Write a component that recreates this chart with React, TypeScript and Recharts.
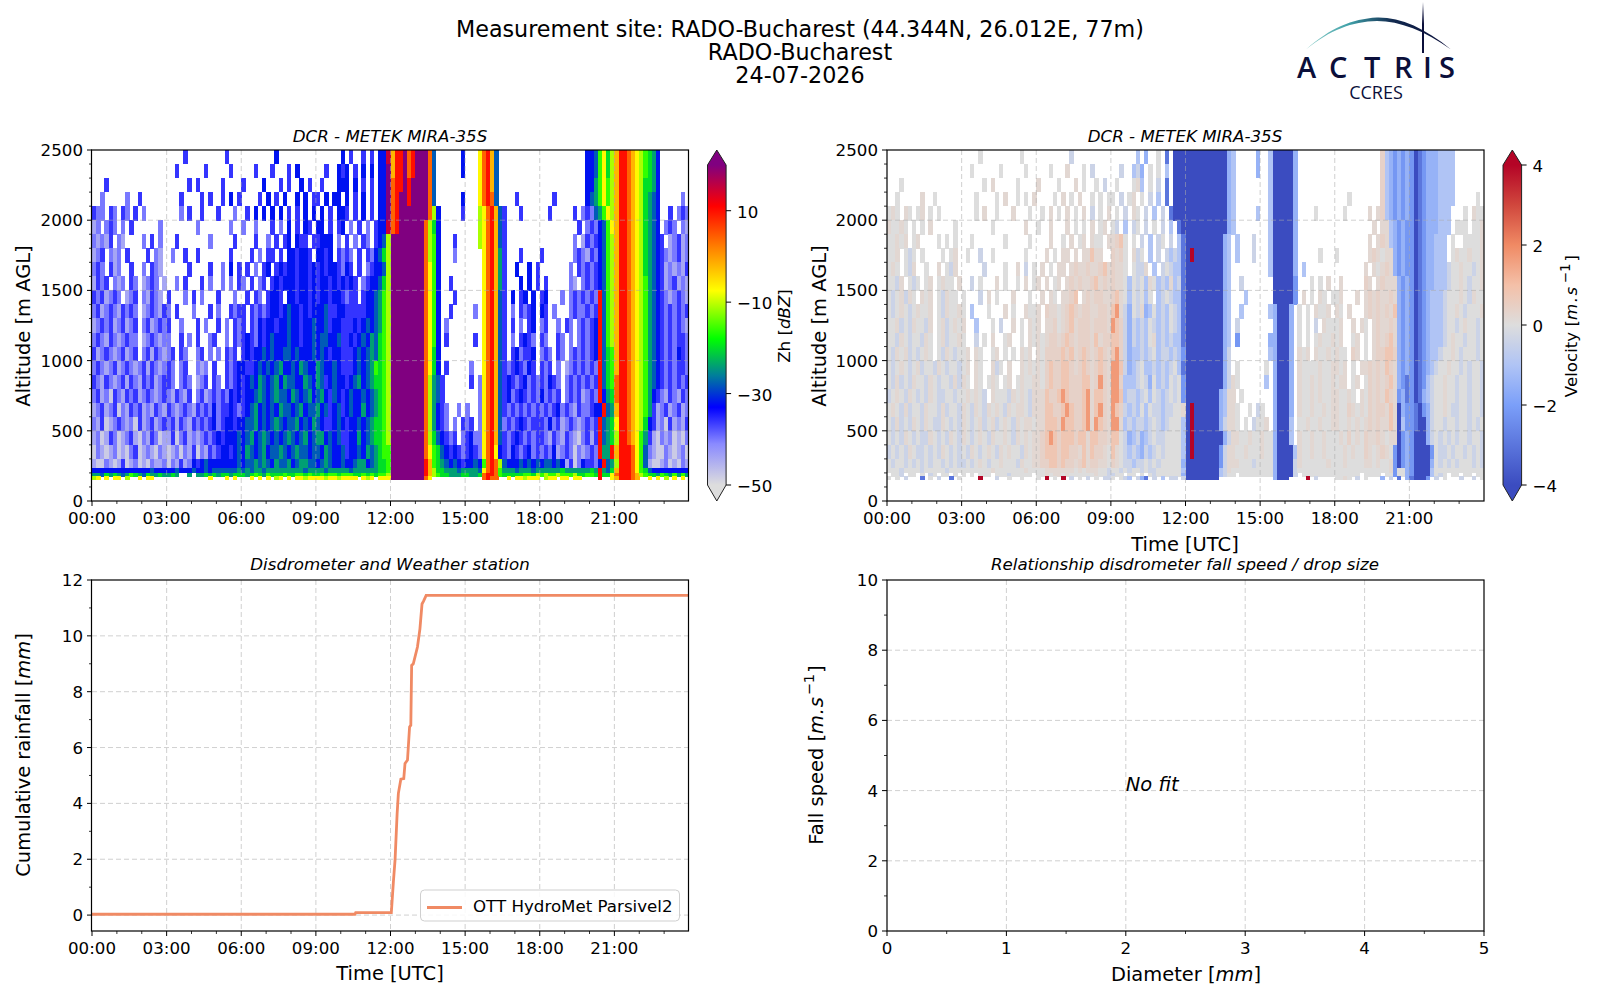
import React from 'react';
import {
  ScatterChart, Scatter, LineChart, Line, XAxis, YAxis, CartesianGrid, ReferenceDot,
} from 'recharts';

const FONT = '"DejaVu Sans", sans-serif';
const LOGO_FONT = '"Open Sans", sans-serif';
const NAVY = '#0b0f3a';
const LINE_COLOR = '#f08a64';
const GRID_COLOR = 'rgba(170,170,170,0.55)';

// altitude of the bottom of every radar row, top row first [m]
const rowBases = [2400, 2300, 2200, 2100, 2000, 1900, 1800, 1700, 1600, 1500, 1400, 1300, 1200, 1100, 1000, 900, 800, 700, 600, 500, 400, 300, 235, 200, 175, 150];
const rowTop = 2500;
const columnMinutes = 10;

// one letter per 10 minutes, grouped by 3 hours, "." = no signal
const zhLevels: Record<string, number> = { a: -48, b: -44, c: -40, d: -36, e: -32, f: -28, g: -24, h: -20, i: -16, j: -11, k: -7, l: -2, m: 4, n: 10, o: 15, p: 20 };
const zhRows = [
  '.................. ....d.........d... ........e......... ......e.d..d.d.eeo lnnpmnpppmf......e ...kmnlf.......... ...........eefikhj lnnmlkjihge.......',
  '.................. ..d......d.....d.. ...d...d...d.e.... ..d..ede.d.e.e.eep lnnpmnpppmf......e ...kmnlf.......... ...........eefikhj lnnmlkjihge.......',
  '...d.............. .....d.d.....d.... d....e...d.d..e.d. .d...eee.e.d.d.eep mnnpnppppmf....... ...kmnlf.......... ...........eegikij lnnmlkjhhge.......',
  '..c.....c..d...... ...d....d.d..d.e.d ....d.e.d.e..e.e.d d.e.ee.e.d.e.d.eep mnppnppppmf......e ...kmnmf....d..... ...d.......efgikij lnnmlkjhgfe.....c.',
  'dcc.dc.dc.d.c..... ...c.d..d...d...c. .d.e.e.e.e.d.d.e.e .e.d.eed.d.e.d.eep mnpppppppmje.....d ...jkmnlfd...d.... ..d.....d.cdcfgikj lnnmlkjhgfe..d.cdc',
  'bc.cdc.c.d......c. .......c.......c.. c..c...d.c.e.d.ed. ee.d.de.c.d.c.deeo mnppppppmjhe...... ...jkmnlfd........ .........d.cdcefik lnnmlkjhgfe.cdc.cb',
  'cbcbd.cb....c.d.c. ..d.......c.....d. ...d..c.d.de.edd.d deee.c.d.c.dc.defj ppppppppmjie...d.. ...jkmnlfd........ ........c.bdcdefij lnnmlkjhgfed.bcdbc',
  'bcd.cbc.d....d.cb. .c..d..d.......d.. ..d.c.dd.d.eedeed. eede.dcdc.d.dcefhj ppppppppmjie...c.. ....kmnlgd...d.... d.......cdcbdcefij lnnmlkjhgfedcbcdbc',
  'cdc.dbc..d..c.dcb. .....d....d..c.e.d .d.c.de.dedeedeede dedeedced.d.cdeefj ppppppppmkie...... ....kmnlgd..e..e.d .......c.dcdcdefij lnnmlkjhgfedbcbcbd',
  'bdcd.cbc.dc.bcdc.b ..c.d...d.c..c.c.d c.d.cd.dedeeedeede deedededed.cdeefhj ppppppppmkie..d... ....kmnlgd...e.e.d .d.....cb.cdcdefij lnnmlkjigfedbcdbcb',
  'dcdbcdc.bcd.cbdcb. d...c.d.c...d...c. .d.dc.deed.eedeede deedeedcdd.deefgij ppppppppmkie...d.. ....kmnlfd.e.de.e. de...c.cdcdcdcnfij lnnmlkjigfedcbcdcb',
  'cdbcdcbdcdc.bcdcbd c.d...c...d.c..dcd d.dcdcdeedefeedede eefddeedddddeefgij ppppppppmkie..d... ..c.kmnlfd.c.dcde. ed.c...cdccdcdnfij lnnmlkjigfedcdcdcd',
  'bcdcdbcdbcd.cdbcdc d..c...d.c..d.c.dc d.dcedeedeefeedeef eefdeedddedefefgij ppppppppmkie.c.... ....kmnlfd.d.c.de. cd..c.dc.cdcdenfij lnnmlkjigfedcdcdcb',
  'cdcbdcbcdcc.bcdcbc c..d.c.d..cd..c.dc dedcedefeeefeedeef effeefddedefegfhij ppppppppmkie.d.... ..d.kmnlfd.c.dedc. dc..dc.c.cdcdenfij lnnmlkjigfedcdcddc',
  'dbcdcbcdbcd.cdbdcb cd.dc..cd.c.c.dcd. dedeefefeeffefeeef efedeedddefefgfhij ppppppppmkhe...... ....kmnlfd.decdde. cdc.dc.cdcdcdenfhi lnnmlkjigfedcdcedc',
  'cdcbcdbcdcbcdbdcbc dc.cd..cbc.d..dcde eddefefefgeefegfee gfeefedddefefgihij ppppppppmkhe.d.... .c..kmnlfdcdedced. dcd.c.bcdcdcdcnfhi lnnmlkjigfedcdcddc',
  'dcbdcbcdbdcbdcdbcd dc.cdc.bcd.dc.dcde defegfefgegffeegfe gfdefeedefgefghhij ppppppppmjgfd..... .d.ckmnlfdedcdecdc dcedc.cdcdcdcdnfhi mnnmlkjigfedcdcdcd',
  'cdbcadcbdcdbcdcbcd cbdcbd.cdbcdcdcede deefgfefgffegfefge fgedfedefeefefghij ppppppppmjgfd..... ...ckmnlfdecdedcdc ecdcd.cdcdbcdcnegh mnnmlkjigedcbdcbdc',
  'bcdbcdacbdcdbcbdcb dcbcdcbdcdcecddedc defgefefegffefgeff gefdefdefeegefghij ppppppppmjgedc..c. c..ckmnlfdcdcdcdcd cdcdecdcbdccdeenfg lnnmlkjigdbcdbcdbc',
  'cbdabcdcbcadbcdbcd cdbdcbdcdcdecdeede effgefefgfeffgefeg feddefedeefefghhij ppppppppmjgedc.c.d cd.ckmnlfcdcdedcdd dcecdbcdcbcdcdnfgh knnmlkjhedbcadbcbd',
  'bcabdcabcdbacbdcab bdacdbcbcdcdedeeef efgefgfefefgfefgef ggefefddeegefghhij ppppppppmjhfedcd.c decckmnlfdcdedcdcd dcbdcbdcbacdbdnfgh jnnmlkigdbacbcabac',
  'acbabcabacdabcbacb abcacbdacbdcdeedef egfefgeffgfefgffef fegfeefdeefegfghii ppppppppmkihfededc dedckmnkedcedcdecd cdcebcdcacbcdcnggn lnnnmkifcbaacbabca',
  'baacbabdabcabacbbc acbdbcedefeeeeeeef effgfgfegffgefggff efgfeefeefggefghhi ppppppppnlihgfefed eefeimnmjfeeefefef effefebdaceddcenfg jnnnmkifbaabcabacb',
  'eeeeeeeeeeeeeefeee eefeeefeefeffffffg fgfggfgggggggggfgg ggfgggggfgggggghhi ppppppppnljhhgggfg gggfkmnmigggfgggfg ggggghgggggghgngfh lnnnmkihfeeeeeeeee',
  'ggfhghgfgihgfhgghg ghg..g.gghghghhghh hghihgihhhihhiihih hihiihiiihhihihiij ppppppppnljihhgggh hgghmnnmihhhhhiihj ijiijiiijhhiihnhhk mnnnmljihhgihgigig',
  'jk.k.kk.j..k.kk... ..........k...k.k. ..k.k.k.jk.k.kkjkk kkjkkjkkkk.kjk.kkk ppppppppmk........ ....mnmm..k.kkjkkk .jkk.kk.kk....n..k lnnnml..k.k.j.k.k.',
];

const velLevels: Record<string, number> = { a: -4, b: -3, c: -2.2, d: -1.5, e: -1, f: -0.4, g: 0, h: 0.2, i: 0.4, j: 0.8, k: 1.7, l: 4 };
const velRows = [
  '.................. ....g.........g... ........f......... ......e.d..g.b.aaa aaaaaaaaaade.....d ..eaaaaad......... ...........iedcdcd cabcdddeeee.......',
  '.................. ..g......g.....g.. ...g...h...g.f.... ..f..efd.g.g.e.aaa aaaaaaaaaade.....d ..eaaaaad......... ...........iedcdcd cabcdddeeee.......',
  '...g.............. .....g.h.....g.... h....g...h.g..g.f. .g...ghe.g.f.b.aaa aaaaaaaaaade...... ..eaaaaad......... ...........iedcdcd cabcdddeeee.......',
  '..g.....h..g...... ...g....g.h..g.g.h ....g.h.g.h..g.g.g g.f.gh.g.f.e.b.aaa aaaaaaaaaade...... ..eaaaaad......... ...g.......iedcdcd cabcdddeeee.....g.',
  'ghg.hg.gh.g.g..... ...g.h..g...h...g. .g.h.g.h.g.h.f.g.h .g.f.hg.f.e.f.baaa aaaaaaaaaade.....e ..eaaaaad....g.... ..g.....h.hiedcdcd cabcdddeee...g.hgg',
  'hgghg.g.g.h.....g. .......g.......h.. g..h...h.g.g.h.gh. gf.e.fg.f.g.f.e.ba aaaaaaaaaade...... ..eaaaaad......... .........h.hhedcdc cabcdddeee.ggg.ggh',
  'gghgh.gh....g.g.g. ..g.......g.....g. ...h..g.h.gh.hgg.h hijg.g.f.e.fg.f.eb aaaaaaaaade.e...f. ..eaaaaad......... ........h.hihedcdc cabcddeee.g..ggggh',
  'ggh.gfg.g....g.gh. .g..f..g.......g.. ..h.g.hh.h.hhjhh. ihig.hfg.e.f.fefeb alaaaaaaade.e...f. ..eaaaaad.....g... g.......hihghhdcdc cabcddeee.ghgghggh',
  'ghg.gfh..g..h.gfh. .....f....g..h.f.g .h.g.hh.hihhihhijh ihhg.gffh.e.fgfeeb aaaaaaaaade....... ..eaaaaad.e....... .......h.hghihdcdc cabcddeeefgghggfgh',
  'ggfh.gfg.gh.ghgg.h ..f.g...h.g..g.h.g h.h.gh.hihihhijhih ihhgegfgehgefehefb aaaaaaaaade..f.... ...aaaaac...g.g.h. .h.....ih.hihhhdcd cabcddeeefgghgfggh',
  'gfghfhg.hgh.gfhgg. g...f.h.g...h...g. .h.hg.hhij.hihiihh ijhgegfgeg.efgfeeb aaaaaaaaade...e... ...aaaaac.h.g.hg.g gh...h.hihihhihdcd cabcdeeefggghgfhgg',
  'gfghgfghggh.gfhggh g.e...g...h.g..hgg h.ihhghijihiihhiih jkhfdgfhdegefegfeb aaaaaaaaade..e.... ..edaaad.g.g.hggh. hg.h...hihihihjdcd cabcdeeefgghgfgggh',
  'gghfgfhggfh.ghfghg h..e...g.f..h.g.hg h.hhighijhiiihiiih kjifdfefegfefegfeb aaaaaaaaade.f..... ...daaad.g.g.f.hgg gh..h.hg.hihhihdcd cabcdeeefggfghggfg',
  'ggfhgfggfhg.ghfggh g..f.g.h..gh..g.hg hghiihijihiiihjhii jjifdfefeghefefeeb aaaaaaaaade.c..... ..ddaaad.g.g.ghggh gh..gh.g.hihijhdcd cabcdeeefghggfggfg',
  'gfhghfgfghg.gfhgfg gh.hg..gh.g.g.hgh. hgiiiijijhijihijih jkifdeefefgeffefec aaaaaaaaadf....... ..edaaad.hgh.hgghg hgg.ih.g.hiijjidcd cabcdeefgghgfgggfg',
  'gfghgfghfggfhgfggf gh.hg..hfg.h..hghg hgijiijjihijihijih kkjfdefgeefefefgeb aaaaaaaaadf.g..... .g.daaad.hgggghggh hgh.g.hhihihjihdcd cabcdefgghggfgfggf',
  'gfhfgfhggfhgfggfhf hg.hg.ghg.gh.ghggh hgijiijjiiijjhikih kkieeefgfdgefegfgc aaaaaaaaadfhg..... .e.daaad.hgghghggh ghh.gh.gihihijhdcb cabcefgghggfggfggf',
  'fghgfhgfgfhgffggfg ghghgf.hgggfhghgfh hhjiijkjiiijkhjjih kkjeffefgegfefgfgc aaaaaaaadehh.g.... ...daaad.hgghghggh hgghg.hgihihjihcdb cabdefgghggfggfggf',
  'ghgfhfggfhggfhfggf hgfhgfhghgfhghhgfh hhjjiijkjiijkhjkih kjifefegegffeffggh alaaaaaadehhg..g.f g..daaad.hgghgghgh hggihghgihiihjhadc cbacdfgghgffggfggf',
  'gfhfgfhgfhgffhgfgf hgfghfghfghgfhghhg hhjjjikjjiijkhkjih kkhefeffefgfefggge alaaaaaadfhhg.g.fg gh.daaae.gghgghggh hgghghghihihhjhaec cbaadfggfggfggfgfg',
  'gfgfhgfgffhgfgfhgf hgfghgfhgghgfhghgh hijkjijjjijjhjjiih jjgfdefdefgffgggge alaaaaaaadfhhgghgg hggdaaae.hgghgghgg ghgighgihhihghhacd caaadfgfgfgfggfggf',
  'fgfgfhgffgfgfhgfgf gfhgfghgfhghggfhgh hijjjijjiihjhjiihg jhgfefedfefgfgggge alaaaaaacfhhgghggg hggdaaaaehgghgghgg gghghggihghihgcacd caaaacgffgfggfgfgf',
  'gfggfgfgfgfggfgfgf fgfghgfgghgggfhggh hiijjijiihijhiihhg ihgffeffgfgfgggggd aaaaaaaacfhhhgggfg gggdaaaafhgggggghg gghgggghhghgghcacd caaaadgfgfgfgggfgf',
  'gggfggggfgggggfggg ggggggghggggggghgg gghhhhhhhghghhhggf ggfgfggfgffgggggge aaaaaaaaefhggggggg gggdaaaafggggggggg ggggggggggggghcggd caaaaegggggggggggg',
  '.ggf.gg.g.fg.gg.g. g.g.ggg.gggfggggg. gghghhghgggggghggf fgg.gg.g.gfggggggd aaaaaaaaefgg.ggggg gggdaaaaf.gggggggg gggggg.gggg.ggcggd caaaaegfg.gg.gg.gg',
  'g.g.f...b.g.f..b.g ....l...f..g..g... g.l.g.l.f.g.f.g.ff g.gfe.fdb.f.e.ff.f aaaaaaaa.......... ...daaa....l.f.... gghg.f.g...d.f.b.d baaac.f.g...f..f.g',
];

// cumulative rainfall, Parsivel2
const rainMinutes = [0, 634, 636, 722, 727, 731, 736, 739, 745, 752, 755, 761, 766, 769, 771, 775, 785, 791, 796, 800, 806, 1440];
const rainMm = [0.03, 0.03, 0.09, 0.09, 1.2, 1.98, 3.64, 4.36, 4.87, 4.89, 5.43, 5.55, 6.74, 6.8, 8.94, 9.0, 9.6, 10.25, 11.14, 11.25, 11.45, 11.45];

// no fit on this day: the panel stays empty
const fitDiameters: number[] = [];
const fitSpeeds: number[] = [];

const altTicks = Array.from({ length: 26 }, (_, i) => i * 100);
const hourTicks = Array.from({ length: 24 }, (_, i) => i * 60);
const hourGrid = [180, 360, 540, 720, 900, 1080, 1260];
const altGrid = [500, 1000, 1500, 2000];
const rainTicks = [0, 1, 2, 3, 4, 5, 6, 7, 8, 9, 10, 11, 12];
const rainGrid = [0, 2, 4, 6, 8, 10];
const speedTicks = [0, 1, 2, 3, 4, 5, 6, 7, 8, 9, 10];
const speedGrid = [2, 4, 6, 8];
const diameterTicks = [0, 0.5, 1, 1.5, 2, 2.5, 3, 3.5, 4, 4.5, 5];
const diameterGrid = [1, 2, 3, 4];

const zhStops: [number, string][] = [[-50, '#dddddd'], [-41, '#8a8aff'], [-33, '#0000ff'], [-26, '#007f9a'], [-18, '#00ff00'], [-7.5, '#ffff00'], [2, '#ff8000'], [11, '#ff0000'], [20, '#800080']];
const velStops: [number, string][] = [[-4, '#3b4cc0'], [-2, '#7b9ff9'], [-1, '#b0c4f5'], [0, '#dddddd'], [1, '#f4c0a8'], [2, '#f08a64'], [3, '#d0473d'], [4, '#b40426']];

const hex = (c: string) => [1, 3, 5].map(i => parseInt(c.slice(i, i + 2), 16));
const colorOf = (stops: [number, string][], v: number) => {
  for (let i = 1; i < stops.length; i++) {
    if (v <= stops[i][0]) {
      const f = Math.max(0, (v - stops[i - 1][0]) / (stops[i][0] - stops[i - 1][0]));
      const a = hex(stops[i - 1][1]);
      const b = hex(stops[i][1]);
      return `rgb(${a.map((x, k) => Math.round(x + (b[k] - x) * f)).join(',')})`;
    }
  }
  return stops[stops.length - 1][1];
};

const buildCells = (rows: string[], levels: Record<string, number>) =>
  rows.flatMap((row, r) => {
    const top = r === 0 ? rowTop : rowBases[r - 1];
    const span = top - rowBases[r];
    return row.split(' ').flatMap((group, g) =>
      group.slice(0, 18).split('').flatMap((ch, i) =>
        ch === '.' ? [] : [{ t: g * 180 + i * columnMinutes + columnMinutes / 2, alt: rowBases[r] + span / 2, span, value: levels[ch] }]
      )
    );
  });

const zhCells = buildCells(zhRows, zhLevels);
const velCells = buildCells(velRows, velLevels);
const rainData = rainMinutes.map((t, i) => ({ t, mm: rainMm[i] }));
const fitData = fitDiameters.map((d, i) => ({ d, v: fitSpeeds[i] }));

// plot areas on the page
const PW = 597;
const PH = 351;
const ZH = { x: 91.5, y: 150 };
const VEL = { x: 887, y: 150 };
const RAIN = { x: 91.5, y: 580 };
const FIT = { x: 887, y: 580 };
const CHART_LEFT = 90;
const CHART_TOP = 10;
const AXIS_W = 60;
const AXIS_H = 30;
const chartStyle = (p: { x: number; y: number }): React.CSSProperties => ({ position: 'absolute', left: p.x - CHART_LEFT, top: p.y - CHART_TOP });
const chartProps = {
  width: PW + CHART_LEFT + 12,
  height: PH + CHART_TOP + AXIS_H + 10,
  margin: { top: CHART_TOP, left: CHART_LEFT - AXIS_W, right: 12, bottom: 10 },
};

const hhmm = (m: number) => `${String(m / 60).padStart(2, '0')}:00`;

const xTick = (isMajor: (v: number) => boolean, fmt: (v: number) => string) => (p: any) => {
  const major = isMajor(p.payload.value);
  const base = CHART_TOP + PH;
  return (
    <g>
      <line x1={p.x} x2={p.x} y1={base} y2={base + (major ? 5 : 3)} stroke="#000" strokeWidth={major ? 1 : 0.8} />
      {major && <text x={p.x} y={base + 23} textAnchor="middle" fontSize={16.67} fontFamily={FONT} fill="#000">{fmt(p.payload.value)}</text>}
    </g>
  );
};

const yTick = (isMajor: (v: number) => boolean) => (p: any) => {
  const major = isMajor(p.payload.value);
  const base = CHART_LEFT;
  return (
    <g>
      <line x1={base} x2={base - (major ? 5 : 3)} y1={p.y} y2={p.y} stroke="#000" strokeWidth={major ? 1 : 0.8} />
      {major && <text x={base - 9} y={p.y + 6} textAnchor="end" fontSize={16.67} fontFamily={FONT} fill="#000">{p.payload.value}</text>}
    </g>
  );
};

const heatCell = (stops: [number, string][]) => (p: any) => {
  const w = (columnMinutes / 1440) * PW;
  const h = (p.payload.span / 2500) * PH;
  return <rect x={p.cx - w / 2} y={p.cy - h / 2} width={w + 0.3} height={h + 0.3} fill={colorOf(stops, p.payload.value)} shapeRendering="crispEdges" />;
};

const RadarPanel = ({ at, cells, stops }: { at: { x: number; y: number }; cells: any[]; stops: [number, string][] }) => (
  <div style={chartStyle(at)}>
    <ScatterChart {...chartProps}>
      <XAxis type="number" dataKey="t" domain={[0, 1440]} ticks={hourTicks} interval={0} height={AXIS_H} axisLine={false} tickLine={false}
        tick={xTick(v => v % 180 === 0, hhmm)} allowDataOverflow />
      <YAxis type="number" dataKey="alt" domain={[0, 2500]} ticks={altTicks} interval={0} width={AXIS_W} axisLine={false} tickLine={false}
        tick={yTick(v => v % 500 === 0)} allowDataOverflow />
      <Scatter data={cells} shape={heatCell(stops)} isAnimationActive={false} />
      <CartesianGrid stroke={GRID_COLOR} strokeDasharray="5 3" horizontalValues={altGrid} verticalValues={hourGrid} zIndex={900} />
    </ScatterChart>
  </div>
);

const Label = ({ x, y, rotate, size = 19.44, italic, anchor = 'middle', children }: any) => (
  <text x={x} y={y} textAnchor={anchor} fontSize={size} fontFamily={FONT} fontStyle={italic ? 'italic' : 'normal'} fill="#000"
    dominantBaseline="central" transform={rotate ? `rotate(-90 ${x} ${y})` : undefined}>{children}</text>
);

const Frame = ({ at }: { at: { x: number; y: number } }) => (
  <rect x={at.x} y={at.y} width={PW} height={PH} fill="none" stroke="#000" strokeWidth={1.2} />
);

const Colorbar = ({ id, x, stops, min, max, ticks }: { id: string; x: number; stops: [number, string][]; min: number; max: number; ticks: number[] }) => {
  const top = 165;
  const bottom = 485;
  const w = 18.6;
  const py = (v: number) => bottom - ((v - min) / (max - min)) * (bottom - top);
  return (
    <g>
      <defs>
        <linearGradient id={id} x1="0" y1="1" x2="0" y2="0">
          {stops.map(([v, c]) => <stop key={v} offset={(v - min) / (max - min)} stopColor={c} />)}
        </linearGradient>
      </defs>
      <rect x={x} y={top} width={w} height={bottom - top} fill={`url(#${id})`} />
      <polygon points={`${x},${top} ${x + w / 2},150 ${x + w},${top}`} fill={stops[stops.length - 1][1]} />
      <polygon points={`${x},${bottom} ${x + w / 2},501 ${x + w},${bottom}`} fill={stops[0][1]} />
      <polygon points={`${x},${top} ${x + w / 2},150 ${x + w},${top} ${x + w},${bottom} ${x + w / 2},501 ${x},${bottom}`} fill="none" stroke="#222" strokeWidth={1} />
      {ticks.map(v => (
        <g key={v}>
          <line x1={x + w} x2={x + w + 5} y1={py(v)} y2={py(v)} stroke="#000" />
          <text x={x + w + 11} y={py(v) + 7} fontSize={16.67} fontFamily={FONT} fill="#000">{String(v).replace('-', '\u2212')}</text>
        </g>
      ))}
    </g>
  );
};

const Logo = () => (
  <g>
    <defs>
      <linearGradient id="arcFill" gradientUnits="userSpaceOnUse" x1="1306" y1="0" x2="1451" y2="0">
        <stop offset="0" stopColor="#8fcfca" />
        <stop offset="0.3" stopColor="#3fa0a8" />
        <stop offset="0.6" stopColor="#12294f" />
        <stop offset="1" stopColor={NAVY} />
      </linearGradient>
      <linearGradient id="mastFill" gradientUnits="userSpaceOnUse" x1="0" y1="2" x2="0" y2="24">
        <stop offset="0" stopColor="#ffffff" />
        <stop offset="1" stopColor={NAVY} />
      </linearGradient>
    </defs>
    <path d="M1306,49.5 C1330,28 1352,19 1377,17.5 C1400,17 1425,28 1451,49.5 C1425,31 1400,21 1377,21 C1352,21.5 1330,30 1306,49.5 Z" fill="url(#arcFill)" />
    <rect x={1422} y={2} width={2} height={51} fill="url(#mastFill)" />
    <text x="1297 1329 1364 1394 1423 1439" y={78} fontSize={29} fontWeight={600} fontFamily={LOGO_FONT} fill={NAVY}>ACTRIS</text>
    <text x={1376} y={99} textAnchor="middle" fontSize={18} fontFamily={LOGO_FONT} fill={NAVY}>CCRES</text>
  </g>
);

const Overlay = () => (
  <svg width={1600} height={1000} style={{ position: 'absolute', left: 0, top: 0, pointerEvents: 'none' }}>
    <Label x={800} y={28.5} size={22.25}>Measurement site: RADO-Bucharest (44.344N, 26.012E, 77m)</Label>
    <Label x={800} y={52} size={22.25}>RADO-Bucharest</Label>
    <Label x={800} y={75} size={22.25}>24-07-2026</Label>
    <Logo />

    <Frame at={ZH} />
    <Frame at={VEL} />
    <Frame at={RAIN} />
    <Frame at={FIT} />

    <Label x={390} y={136} size={16.67} italic>DCR - METEK MIRA-35S</Label>
    <Label x={1185} y={136} size={16.67} italic>DCR - METEK MIRA-35S</Label>
    <Label x={390} y={564.5} size={16.67} italic>Disdrometer and Weather station</Label>
    <Label x={1185} y={564.5} size={16.67} italic>Relationship disdrometer fall speed / drop size</Label>

    <Label x={23} y={326} rotate>Altitude [m AGL]</Label>
    <Label x={819} y={326} rotate>Altitude [m AGL]</Label>
    <Label x={23} y={755} rotate>Cumulative rainfall [<tspan fontStyle="italic">mm</tspan>]</Label>
    <Label x={816} y={755} rotate>Fall speed [<tspan fontStyle="italic" letterSpacing={0.8}>m.s</tspan><tspan fontSize={14.5} dy={-7} dx={1}>−1</tspan><tspan dy={7} dx={1}>]</tspan></Label>
    <Label x={1185} y={544}>Time [UTC]</Label>
    <Label x={390} y={973}>Time [UTC]</Label>
    <Label x={1186} y={974}>Diameter [<tspan fontStyle="italic">mm</tspan>]</Label>

    <Colorbar id="zhBar" x={707.5} stops={zhStops} min={-50} max={20} ticks={[-50, -30, -10, 10]} />
    <Label x={784} y={326} rotate size={16.67}>Zh [<tspan fontStyle="italic">dBZ</tspan>]</Label>
    <Colorbar id="velBar" x={1503} stops={velStops} min={-4} max={4} ticks={[-4, -2, 0, 2, 4]} />
    <Label x={1571} y={326} rotate size={16.67}>Velocity [<tspan fontStyle="italic" letterSpacing={1.5}>m.s</tspan><tspan fontSize={13.5} dy={-6} dx={2}>−1</tspan><tspan dy={6} dx={2}>]</tspan></Label>

    <rect x={420.5} y={890} width={259} height={31} rx={4} fill="rgba(255,255,255,0.85)" stroke="#cfcfcf" />
    <line x1={427} x2={462} y1={907.5} y2={907.5} stroke={LINE_COLOR} strokeWidth={2.8} />
    <Label x={473} y={906.5} size={16.67} anchor="start">OTT HydroMet Parsivel2</Label>
  </svg>
);

export default function App() {
  return (
    <div style={{ position: 'absolute', left: 0, top: 0, width: 1600, height: 1000, background: '#fff', overflow: 'hidden' }}>
      <RadarPanel at={ZH} cells={zhCells} stops={zhStops} />
      <RadarPanel at={VEL} cells={velCells} stops={velStops} />

      <div style={chartStyle(RAIN)}>
        <LineChart {...chartProps} data={rainData}>
          <CartesianGrid stroke={GRID_COLOR} strokeDasharray="5 3" horizontalValues={rainGrid} verticalValues={hourGrid} />
          <XAxis type="number" dataKey="t" domain={[0, 1440]} ticks={hourTicks} interval={0} height={AXIS_H} axisLine={false} tickLine={false}
            tick={xTick(v => v % 180 === 0, hhmm)} allowDataOverflow />
          <YAxis type="number" domain={[-0.57, 12]} ticks={rainTicks} interval={0} width={AXIS_W} axisLine={false} tickLine={false}
            tick={yTick(v => v % 2 === 0)} allowDataOverflow />
          <Line dataKey="mm" type="linear" stroke={LINE_COLOR} strokeWidth={2.8} dot={false} isAnimationActive={false} />
        </LineChart>
      </div>

      <div style={chartStyle(FIT)}>
        <ScatterChart {...chartProps}>
          <CartesianGrid stroke={GRID_COLOR} strokeDasharray="5 3" horizontalValues={speedGrid} verticalValues={diameterGrid} />
          <XAxis type="number" dataKey="d" domain={[0, 5]} ticks={diameterTicks} interval={0} height={AXIS_H} axisLine={false} tickLine={false}
            tick={xTick(v => Number.isInteger(v), String)} allowDataOverflow />
          <YAxis type="number" dataKey="v" domain={[0, 10]} ticks={speedTicks} interval={0} width={AXIS_W} axisLine={false} tickLine={false}
            tick={yTick(v => v % 2 === 0)} allowDataOverflow />
          <Scatter data={fitData} isAnimationActive={false} />
          <ReferenceDot x={2} y={4} r={0} ifOverflow="visible" shape={(p: any) => (
            <text x={p.cx} y={p.cy} fontSize={19.44} fontStyle="italic" fontFamily={FONT} fill="#000">No fit</text>
          )} />
        </ScatterChart>
      </div>

      <Overlay />
    </div>
  );
}
